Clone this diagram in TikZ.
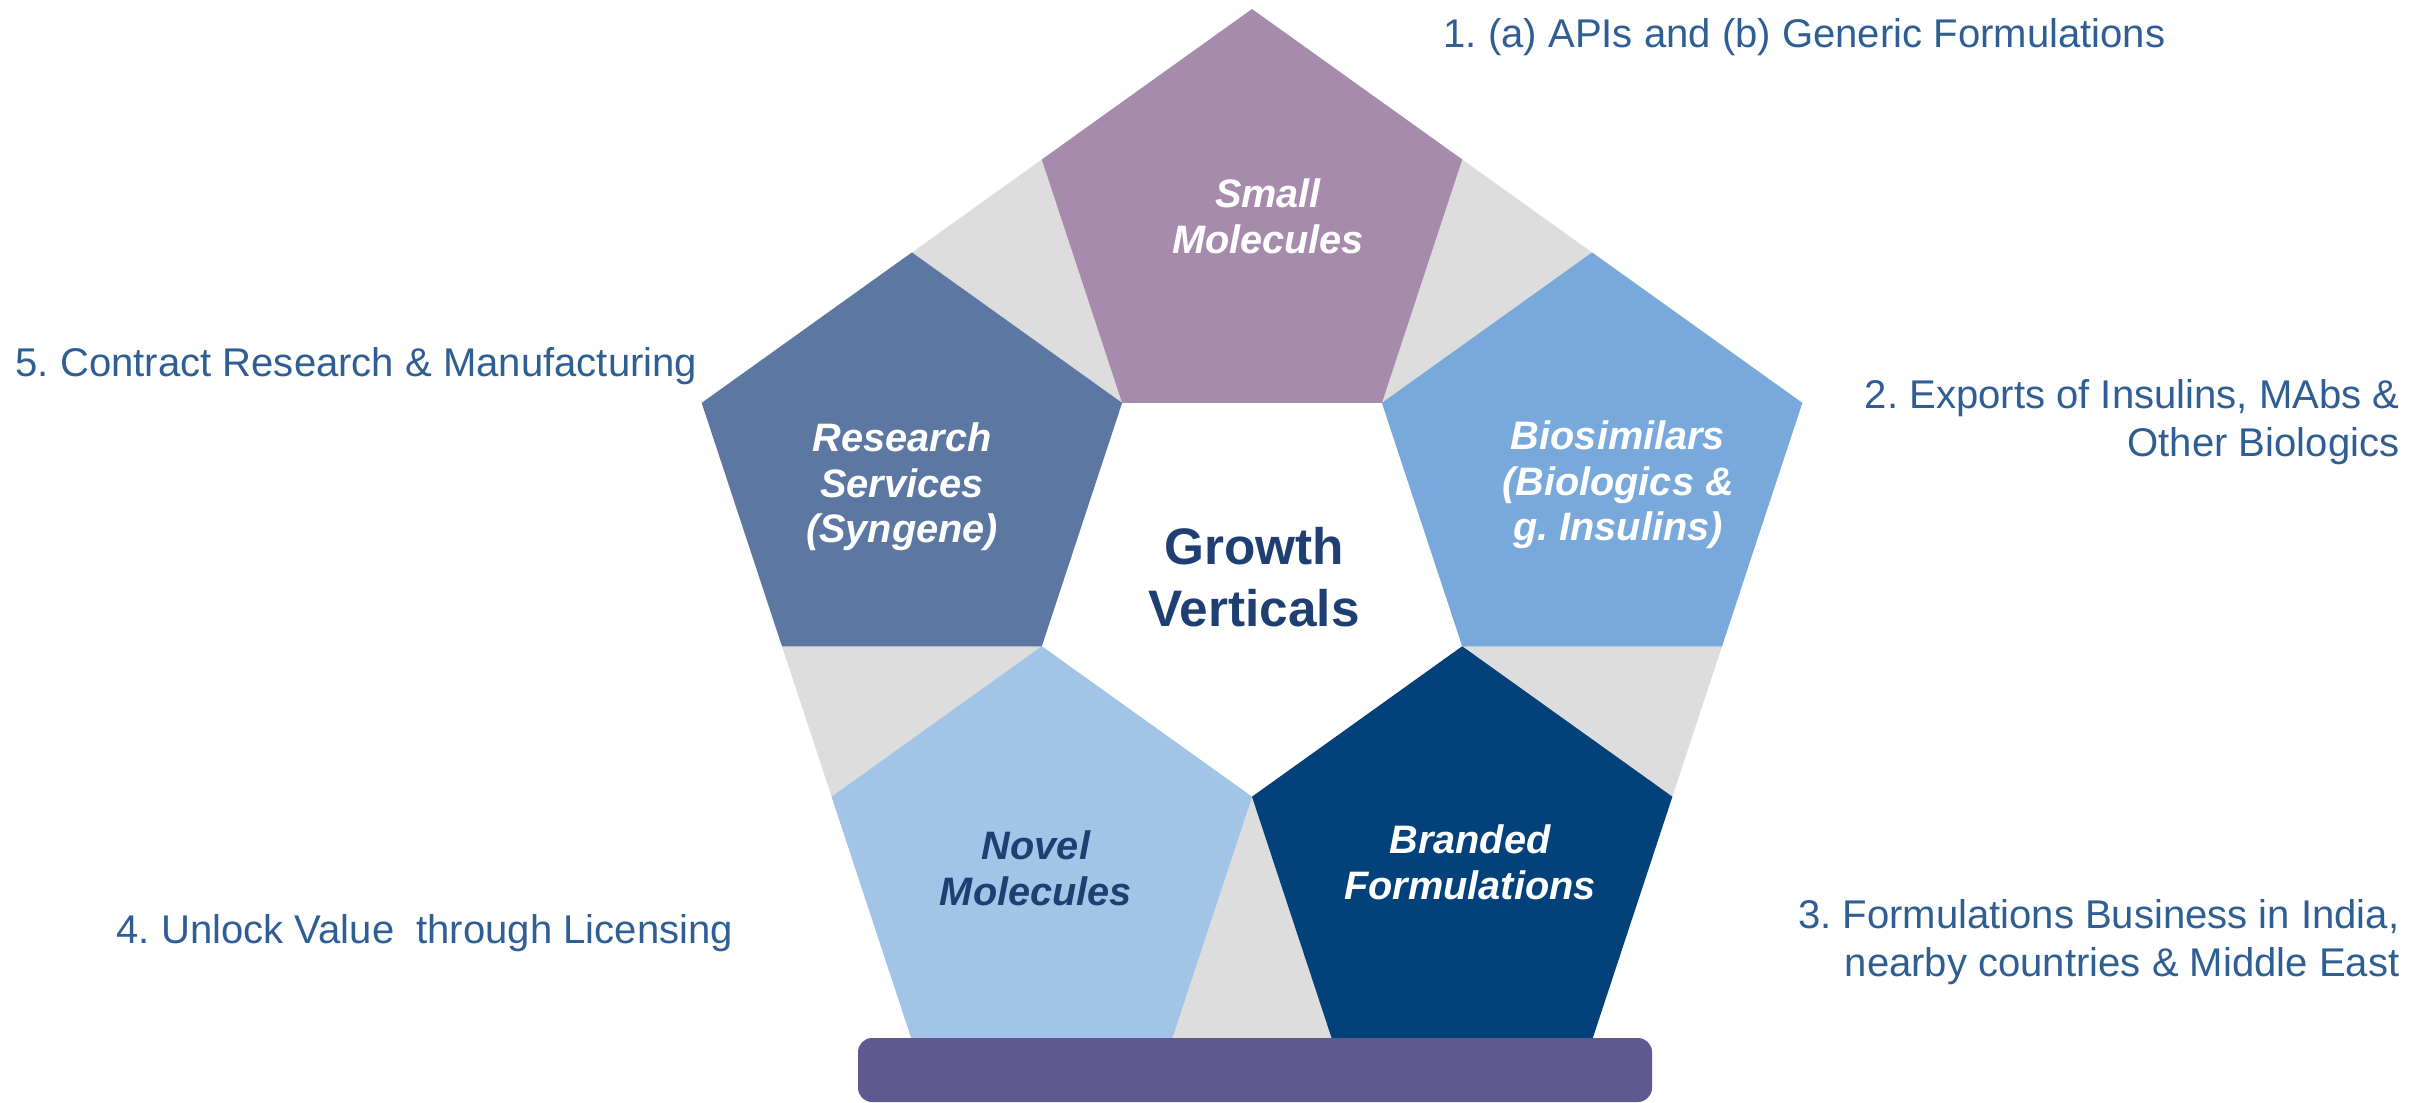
\documentclass[tikz,border=0pt]{standalone}
\usepackage{fontspec}
\setmainfont{Liberation Sans}
\frenchspacing
\usetikzlibrary{positioning}
\definecolor{smallc}{HTML}{A78BAD}
\definecolor{biosimc}{HTML}{78A9DA}
\definecolor{brandedc}{HTML}{02417A}
\definecolor{novelc}{HTML}{A2C4E6}
\definecolor{researchc}{HTML}{5B77A2}
\definecolor{jointc}{HTML}{DDDDDD}
\definecolor{plinthc}{HTML}{5E5A8F}
\definecolor{labelc}{HTML}{2E5E94}
\definecolor{navyc}{HTML}{1F3F73}

\begin{document}
\begin{tikzpicture}[vertical/.style={font=\fontsize{11.3}{13}\selectfont\bfseries\itshape,align=center,text=white},
                    business/.style={font=\fontsize{11.4}{13.6}\selectfont,text=labelc,inner sep=0pt}]
 \useasboundingbox (0,0) rectangle (24.3,11.02);
 \begin{scope}[shift={(12.52,5.23)},yscale=0.985]
   \fill[jointc,even odd rule] (90:5.786) -- (18:5.786) -- (-54:5.786) -- (-126:5.786) -- (162:5.786) -- cycle
        (54:2.21) -- (126:2.21) -- (198:2.21) -- (270:2.21) -- (342:2.21) -- cycle;
   \foreach \ang/\col in {90/smallc,18/biosimc,-54/brandedc,-126/novelc,162/researchc}
     \fill[\col] (\ang:3.576) ++(\ang:2.21) -- ++(\ang+126:2.598) -- ++(\ang+198:2.598)
        -- ++(\ang+270:2.598) -- ++(\ang+342:2.598) -- cycle;
 \end{scope}
 \fill[plinthc,rounded corners=4pt] (8.58,0) rectangle (16.52,0.64);

 \node[font=\fontsize{14.6}{17.6}\selectfont\bfseries,text=navyc,align=center] (growth) at (12.54,5.25) {Growth\\Verticals};
 \node[vertical] (small) at (12.68,8.86) {Small\\Molecules};
 \node[vertical] (biosim) at (16.18,6.17) {Biosimilars\\(Biologics \&\\g. Insulins)};
 \node[vertical] (branded) at (14.70,2.40) {Branded\\Formulations};
 \node[vertical,text=navyc] (novel) at (10.36,2.34) {Novel\\Molecules};
 \node[vertical] (research) at (9.02,6.15) {Research\\Services\\(Syngene)};

 \node[business,anchor=base west] (apis) at (14.43,10.54) {1. (a) APIs and (b) Generic Formulations};
 \node[business,anchor=north east,align=right] (exports) at (24.00,7.23) {2. Exports of Insulins, MAbs \&\\Other Biologics};
 \node[business,anchor=north east,align=right] (india) at (24.00,2.03) {3. Formulations Business in India,\\nearby countries \& Middle East};
 \node[business,anchor=base west] (licensing) at (1.16,1.59) {4. Unlock Value\ \ through Licensing};
 \node[business,anchor=base west] (contract) at (0.15,7.25) {5. Contract Research \& Manufacturing};
\end{tikzpicture}
\end{document}
